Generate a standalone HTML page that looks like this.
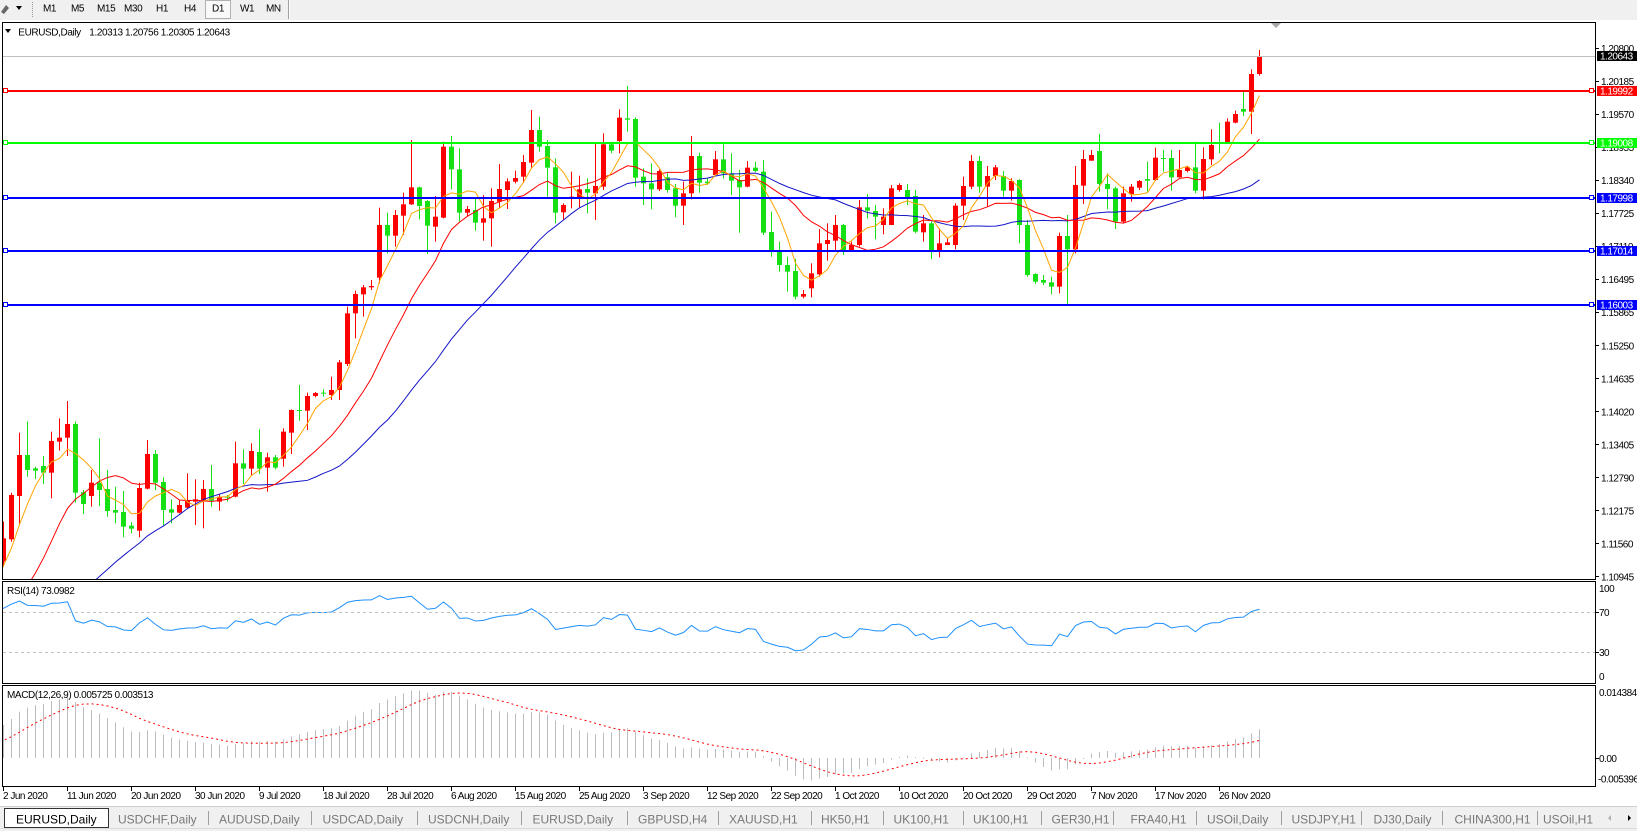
<!DOCTYPE html>
<html><head><meta charset="utf-8">
<style>
html,body{margin:0;padding:0;background:#fff;overflow:hidden;}
svg{display:block;}
text{font-family:"Liberation Sans",Arial,sans-serif;}
.ax{font-size:10px;letter-spacing:-0.5px;fill:#000;}
.tb{font-size:10px;letter-spacing:-0.4px;fill:#000;}
.wt{font-size:10px;letter-spacing:-0.5px;fill:#fff;}
.tab{font-size:12px;fill:#787878;}
</style></head><body>
<svg id="c" xmlns="http://www.w3.org/2000/svg" width="1637" height="831" viewBox="0 0 1637 831">
<defs>
<clipPath id="cm"><rect x="3" y="23" width="1592" height="556"/></clipPath>
<clipPath id="cr"><rect x="3" y="582" width="1592" height="101"/></clipPath>
<clipPath id="cd"><rect x="3" y="686" width="1592" height="100"/></clipPath>
</defs>
<rect x="0" y="0" width="1637" height="831" fill="#fff"/>
<!-- toolbar -->
<rect x="0" y="0" width="1637" height="20" fill="#f0f0f0"/>
<path d="M1 12 L6 5 L9 8 L4 14 Z" fill="#666"/>
<polygon points="16,6 22,6 19,10" fill="#000"/>
<line x1="32.5" y1="2" x2="32.5" y2="17" stroke="#999" stroke-dasharray="1,1"/>
<rect x="205.5" y="0.5" width="25" height="18" fill="#f9f9f9" stroke="#b0b0b0"/>
<text class="tb" x="43" y="11.5">M1</text>
<text class="tb" x="71" y="11.5">M5</text>
<text class="tb" x="97" y="11.5">M15</text>
<text class="tb" x="124" y="11.5">M30</text>
<text class="tb" x="156" y="11.5">H1</text>
<text class="tb" x="184" y="11.5">H4</text>
<text class="tb" x="212" y="11.5">D1</text>
<text class="tb" x="240" y="11.5">W1</text>
<text class="tb" x="266" y="11.5">MN</text>
<line x1="288.5" y1="0" x2="288.5" y2="19" stroke="#a0a0a0"/>
<line x1="289.5" y1="0" x2="289.5" y2="19" stroke="#fff"/>

<!-- frames -->
<rect x="2.5" y="22.5" width="1593" height="557" fill="none" stroke="#000"/>
<rect x="2.5" y="581.5" width="1593" height="102" fill="none" stroke="#000"/>
<rect x="2.5" y="685.5" width="1593" height="101" fill="none" stroke="#000"/>

<!-- title -->
<polygon points="5,29 11,29 8,33" fill="#000"/>
<text class="tb" x="18.3" y="35.5">EURUSD,Daily</text>
<text class="tb" x="89.3" y="35.5">1.20313 1.20756 1.20305 1.20643</text>
<polygon points="1271,23 1281,23 1276,28" fill="#a8a8a8"/>

<g id="dyn"></g>

<!-- current price line -->
<rect x="3" y="56" width="1592" height="1" fill="#c0c0c0"/>
<!-- horizontal lines -->
<rect x="3" y="90" width="1592" height="2" fill="#ff0000"/>
<rect x="3" y="142" width="1592" height="2" fill="#00ff00"/>
<rect x="3" y="197" width="1592" height="2" fill="#0000ff"/>
<rect x="3" y="250" width="1592" height="2" fill="#0000ff"/>
<rect x="3" y="304" width="1592" height="2" fill="#0000ff"/>
<g fill="#fff" stroke-width="1">
<rect x="3.5" y="88.5" width="4" height="4" stroke="#ff0000"/>
<rect x="1589.5" y="88.5" width="4" height="4" stroke="#ff0000"/>
<rect x="3.5" y="140.5" width="4" height="4" stroke="#00ff00"/>
<rect x="1589.5" y="140.5" width="4" height="4" stroke="#00ff00"/>
<rect x="3.5" y="195.5" width="4" height="4" stroke="#0000ff"/>
<rect x="1589.5" y="195.5" width="4" height="4" stroke="#0000ff"/>
<rect x="3.5" y="248.5" width="4" height="4" stroke="#0000ff"/>
<rect x="1589.5" y="248.5" width="4" height="4" stroke="#0000ff"/>
<rect x="3.5" y="302.5" width="4" height="4" stroke="#0000ff"/>
<rect x="1589.5" y="302.5" width="4" height="4" stroke="#0000ff"/>
</g>

<!-- price axis -->
<g stroke="#000">
<line x1="1596" y1="48.5" x2="1599" y2="48.5"/>
<line x1="1596" y1="81.5" x2="1599" y2="81.5"/>
<line x1="1596" y1="114.5" x2="1599" y2="114.5"/>
<line x1="1596" y1="147.5" x2="1599" y2="147.5"/>
<line x1="1596" y1="180.5" x2="1599" y2="180.5"/>
<line x1="1596" y1="213.5" x2="1599" y2="213.5"/>
<line x1="1596" y1="246.5" x2="1599" y2="246.5"/>
<line x1="1596" y1="279.5" x2="1599" y2="279.5"/>
<line x1="1596" y1="312.5" x2="1599" y2="312.5"/>
<line x1="1596" y1="345.5" x2="1599" y2="345.5"/>
<line x1="1596" y1="378.5" x2="1599" y2="378.5"/>
<line x1="1596" y1="411.5" x2="1599" y2="411.5"/>
<line x1="1596" y1="444.5" x2="1599" y2="444.5"/>
<line x1="1596" y1="477.5" x2="1599" y2="477.5"/>
<line x1="1596" y1="510.5" x2="1599" y2="510.5"/>
<line x1="1596" y1="543.5" x2="1599" y2="543.5"/>
<line x1="1596" y1="576.5" x2="1599" y2="576.5"/>
<line x1="1596" y1="612.5" x2="1599" y2="612.5"/>
<line x1="1596" y1="652.5" x2="1599" y2="652.5"/>
<line x1="1596" y1="758.5" x2="1599" y2="758.5"/>
</g>
<text class="ax" x="1601" y="51.8">1.20800</text>
<text class="ax" x="1601" y="84.9">1.20185</text>
<text class="ax" x="1601" y="117.9">1.19570</text>
<text class="ax" x="1601" y="151.0">1.18955</text>
<text class="ax" x="1601" y="184.0">1.18340</text>
<text class="ax" x="1601" y="217.1">1.17725</text>
<text class="ax" x="1601" y="250.1">1.17110</text>
<text class="ax" x="1601" y="283.2">1.16495</text>
<text class="ax" x="1601" y="316.2">1.15865</text>
<text class="ax" x="1601" y="349.3">1.15250</text>
<text class="ax" x="1601" y="382.3">1.14635</text>
<text class="ax" x="1601" y="415.4">1.14020</text>
<text class="ax" x="1601" y="448.4">1.13405</text>
<text class="ax" x="1601" y="481.5">1.12790</text>
<text class="ax" x="1601" y="514.5">1.12175</text>
<text class="ax" x="1601" y="547.6">1.11560</text>
<text class="ax" x="1601" y="580.6">1.10945</text>

<rect x="1597" y="51" width="40" height="10" fill="#000"/>
<text class="wt" x="1600" y="59.7">1.20643</text>
<rect x="1597" y="86" width="40" height="10" fill="#ff0000"/>
<text class="wt" x="1600" y="94.5">1.19992</text>
<rect x="1597" y="138" width="40" height="10" fill="#00ff00"/>
<text class="wt" x="1600" y="146.5">1.19008</text>
<rect x="1597" y="193" width="40" height="10" fill="#0000ff"/>
<text class="wt" x="1600" y="201.5">1.17998</text>
<rect x="1597" y="246" width="40" height="10" fill="#0000ff"/>
<text class="wt" x="1600" y="254.5">1.17014</text>
<rect x="1597" y="300" width="40" height="10" fill="#0000ff"/>
<text class="wt" x="1600" y="308.5">1.16003</text>

<!-- RSI -->
<line x1="3" y1="612.5" x2="1595" y2="612.5" stroke="#c0c0c0" stroke-dasharray="3,3"/>
<line x1="3" y1="652.5" x2="1595" y2="652.5" stroke="#c0c0c0" stroke-dasharray="3,3"/>
<text class="tb" x="7" y="594.2">RSI(14) 73.0982</text>
<text class="ax" x="1599" y="591.8">100</text>
<text class="ax" x="1599" y="615.8">70</text>
<text class="ax" x="1599" y="655.8">30</text>
<text class="ax" x="1599" y="680.2">0</text>

<!-- MACD -->
<text class="tb" x="7" y="698.2">MACD(12,26,9) 0.005725 0.003513</text>
<text class="ax" x="1599" y="696.2">0.014384</text>
<text class="ax" x="1599" y="762.2">0.00</text>
<text class="ax" x="1598" y="782.5">-0.005396</text>

<!-- x axis -->
<g stroke="#000">
<line x1="3.5" y1="786" x2="3.5" y2="791"/>
<line x1="67.5" y1="786" x2="67.5" y2="791"/>
<line x1="131.5" y1="786" x2="131.5" y2="791"/>
<line x1="195.5" y1="786" x2="195.5" y2="791"/>
<line x1="259.5" y1="786" x2="259.5" y2="791"/>
<line x1="323.5" y1="786" x2="323.5" y2="791"/>
<line x1="387.5" y1="786" x2="387.5" y2="791"/>
<line x1="451.5" y1="786" x2="451.5" y2="791"/>
<line x1="515.5" y1="786" x2="515.5" y2="791"/>
<line x1="579.5" y1="786" x2="579.5" y2="791"/>
<line x1="643.5" y1="786" x2="643.5" y2="791"/>
<line x1="707.5" y1="786" x2="707.5" y2="791"/>
<line x1="771.5" y1="786" x2="771.5" y2="791"/>
<line x1="835.5" y1="786" x2="835.5" y2="791"/>
<line x1="899.5" y1="786" x2="899.5" y2="791"/>
<line x1="963.5" y1="786" x2="963.5" y2="791"/>
<line x1="1027.5" y1="786" x2="1027.5" y2="791"/>
<line x1="1091.5" y1="786" x2="1091.5" y2="791"/>
<line x1="1155.5" y1="786" x2="1155.5" y2="791"/>
<line x1="1219.5" y1="786" x2="1219.5" y2="791"/>
</g>
<text class="ax" x="3" y="799">2 Jun 2020</text>
<text class="ax" x="67" y="799">11 Jun 2020</text>
<text class="ax" x="131" y="799">20 Jun 2020</text>
<text class="ax" x="195" y="799">30 Jun 2020</text>
<text class="ax" x="259" y="799">9 Jul 2020</text>
<text class="ax" x="323" y="799">18 Jul 2020</text>
<text class="ax" x="387" y="799">28 Jul 2020</text>
<text class="ax" x="451" y="799">6 Aug 2020</text>
<text class="ax" x="515" y="799">15 Aug 2020</text>
<text class="ax" x="579" y="799">25 Aug 2020</text>
<text class="ax" x="643" y="799">3 Sep 2020</text>
<text class="ax" x="707" y="799">12 Sep 2020</text>
<text class="ax" x="771" y="799">22 Sep 2020</text>
<text class="ax" x="835" y="799">1 Oct 2020</text>
<text class="ax" x="899" y="799">10 Oct 2020</text>
<text class="ax" x="963" y="799">20 Oct 2020</text>
<text class="ax" x="1027" y="799">29 Oct 2020</text>
<text class="ax" x="1091" y="799">7 Nov 2020</text>
<text class="ax" x="1155" y="799">17 Nov 2020</text>
<text class="ax" x="1219" y="799">26 Nov 2020</text>

<!-- tabs -->
<rect x="0" y="806" width="1637" height="25" fill="#f0f0f0"/>
<line x1="0" y1="806.5" x2="1637" y2="806.5" stroke="#cfcfcf"/>
<line x1="0" y1="828.5" x2="1637" y2="828.5" stroke="#dadada"/>
<rect x="4.5" y="808.5" width="104" height="19" fill="#fff" stroke="#333"/>
<text x="16" y="823.5" style="font-size:12px;fill:#000;">EURUSD,Daily</text>
<g stroke="#a0a0a0">
<line x1="208.5" y1="811" x2="208.5" y2="825"/>
<line x1="311.5" y1="811" x2="311.5" y2="825"/>
<line x1="417.5" y1="811" x2="417.5" y2="825"/>
<line x1="521.5" y1="811" x2="521.5" y2="825"/>
<line x1="627.5" y1="811" x2="627.5" y2="825"/>
<line x1="718.5" y1="811" x2="718.5" y2="825"/>
<line x1="811.5" y1="811" x2="811.5" y2="825"/>
<line x1="883.5" y1="811" x2="883.5" y2="825"/>
<line x1="963.5" y1="811" x2="963.5" y2="825"/>
<line x1="1041.5" y1="811" x2="1041.5" y2="825"/>
<line x1="1113.5" y1="811" x2="1113.5" y2="825"/>
<line x1="1196.5" y1="811" x2="1196.5" y2="825"/>
<line x1="1281.5" y1="811" x2="1281.5" y2="825"/>
<line x1="1361.5" y1="811" x2="1361.5" y2="825"/>
<line x1="1442.5" y1="811" x2="1442.5" y2="825"/>
<line x1="1537.5" y1="811" x2="1537.5" y2="825"/>
</g>
<text class="tab" x="118" y="823.5">USDCHF,Daily</text>
<text class="tab" x="219" y="823.5">AUDUSD,Daily</text>
<text class="tab" x="322.5" y="823.5">USDCAD,Daily</text>
<text class="tab" x="428" y="823.5">USDCNH,Daily</text>
<text class="tab" x="532.5" y="823.5">EURUSD,Daily</text>
<text class="tab" x="638" y="823.5">GBPUSD,H4</text>
<text class="tab" x="729" y="823.5">XAUUSD,H1</text>
<text class="tab" x="821" y="823.5">HK50,H1</text>
<text class="tab" x="893.5" y="823.5">UK100,H1</text>
<text class="tab" x="973" y="823.5">UK100,H1</text>
<text class="tab" x="1051.5" y="823.5">GER30,H1</text>
<text class="tab" x="1130.5" y="823.5">FRA40,H1</text>
<text class="tab" x="1207" y="823.5">USOil,Daily</text>
<text class="tab" x="1291.5" y="823.5">USDJPY,H1</text>
<text class="tab" x="1373.5" y="823.5">DJ30,Daily</text>
<text class="tab" x="1454.5" y="823.5">CHINA300,H1</text>
<text class="tab" x="1543" y="823.5">USOil,H1</text>
<polygon points="1611,815 1611,821 1608,818" fill="#b0b0b0"/>
<polygon points="1628,815 1628,821 1631,818" fill="#000"/>
</svg>
<script>
(function(){
var NS='http://www.w3.org/2000/svg';
function el(tag,a,p){var e=document.createElementNS(NS,tag);for(var k in a)e.setAttribute(k,a[k]);p.appendChild(e);return e;}
var Y0=575.5,P0=1.10945,S=5355;
function y2p(y){return P0+(Y0-y)/S;}
function p2y(p){return Y0-(p-P0)*S;}
var segs=[
[360,[
['r',535,605,485,620],['r',405,538,398,545],['r',285,408,218,495],['g',285,330,185,350],['g',325,332,320,357],
['g',318,338,288,372],['r',243,338,215,415],['r',233,245,175,272],['r',192,233,123,288],['g',192,398,185,428],
['g',397,432,390,462],['r',368,408,330,440],['g',368,390,235,438],['g',387,453,330,470],['g',450,458,380,490],
['g',456,500,393,532],['g',497,506,486,520],['r',384,512,368,532],['r',282,386,240,388],['g',282,368,270,390],
['g',366,450,352,497],['g',448,458,418,490],['r',435,458,420,460],['r',420,443,340,445],['r',418,425,358,495],
['r',387,425,360,505],['g',387,422,315,440],['r',410,425,402,452],['g',410,413,405,425],['r',310,410,245,412],
['g',310,326,268,372],['r',273,326,250,345],['g',276,326,208,342],['r',292,323,278,395],['g',292,323,285,328],
['r',215,296,205,320],['r',150,218,148,282],['g',150,153,75,182],['r',108,152,98,210],['r',99,108,96,112],
['g',98,101,88,110]]],
[80,[
['r',930,945,890,960],['r',847,930,840,960],['r',700,852,680,858],['r',642,700,632,775],['r',622,643,615,710],
['r',618,622,600,630],['r',435,593,383,610],['g',435,467,398,520],['r',405,467,390,500],['r',373,407,338,465],
['r',322,373,180,375],['g',322,378,320,418],['g',363,437,360,522],['r',410,440,348,485],['r',200,413,185,415],
['g',200,268,168,328],['g',268,398,205,425],['r',387,398,378,410],['g',390,428,355,452],['r',415,428,345,482],
['r',363,415,325,500],['r',327,365,252,385],['r',304,330,295,387],['r',294,305,272,310],['r',246,290,225,308],
['r',150,248,90,265],['g',150,200,110,215],['g',198,263,180,350],['g',262,398,235,430],['r',375,397,370,420],
['r',350,354,275,385],['r',328,352,287,382],['g',327,338,295,400],['r',318,340,192,420],['r',193,320,160,330],
['g',193,212,185,220],['r',113,183,88,220],['g',115,119,18,155],['g',117,293,112,320],['g',290,310,265,375]]],
[110,[
['g',220,238,160,298],['r',183,238,178,243],['g',202,240,190,248],['g',235,287,222,322],['r',250,287,215,345],
['r',138,250,78,268],['g',138,218,128,248],['g',215,220,205,225],['r',148,195,123,198],['g',148,190,103,205],
['g',190,212,130,255],['g',210,232,180,368],['r',173,230,153,232],['g',173,183,155,186],['g',185,368,150,375],
['g',366,420,305,440],['g',425,465,395,485],['g',465,485,440,545],['g',483,560,447,568],['r',552,560,540,565],
['r',490,535,460,562],['r',400,493,357,500],['r',390,402,340,452],['r',345,392,315,420],['g',345,420,342,435],
['r',405,420,395,425],['r',292,405,270,410],['g',292,302,252,325],['g',303,320,285,388],['r',320,345,295,373],
['r',235,345,225,345],['r',225,240,220,245],['g',240,262,222,285],['g',258,365,240,370],['r',340,367,315,395],
['g',340,425,335,447],['r',400,425,355,442],['r',397,405,385,405],['r',287,405,280,418],['r',228,287,200,330]]],
[40,[
['r',363,440,345,447],['g',363,440,348,458],['r',408,440,378,500],['r',382,408,375,420],['g',408,452,393,470],
['r',423,452,415,482],['g',420,555,418,610],['g',555,705,540,710],['g',702,725,700,732],['g',720,728,705,735],
['g',727,740,710,763],['r',588,740,578,760],['g',588,628,525,795],['r',435,628,378,640],['r',357,437,330,492],
['r',345,362,330,362],['g',333,432,282,455],['g',432,447,400,508],['g',445,545,440,567],['r',460,545,440,550],
['r',440,462,432,485],['r',423,443,420,450],['g',417,422,365,455],['r',353,420,323,423],['g',354,356,330,395],
['g',354,412,330,452],['r',390,412,330,413],['r',382,393,377,397],['g',382,452,305,460],['r',357,452,322,478],
['r',315,358,268,375],['g',308,311,248,340],['r',245,308,235,310],['r',222,248,212,250],['g',207,215,155,228],
['r',102,215,88,282],['r',48,102,30,107]]]
];
var bars=[];
segs.forEach(function(s){var o=s[0];s[1].forEach(function(b){bars.push({up:b[0]==='r',t:o+b[1]/3,bo:o+b[2]/3,h:o+b[3]/3,l:o+b[4]/3});});});
var pre=[1.0960,1.0900,1.0850,1.0800,1.0780,1.0790,1.0850,1.0930,1.0970,1.0990,1.0920,1.0880,1.0900,1.0880,1.0890,1.0940,1.0960,1.0920,1.0870,1.0910,
1.0935,1.0870,1.0870,1.0860,1.0860,1.0820,1.0780,1.0820,1.0820,1.0830,1.0825,1.0875,1.0955,1.0980,1.0980,1.0905,1.0840,1.0795,1.0835,1.0840,
1.0840,1.0810,1.0850,1.0818,1.0805,1.0820,1.0820,1.0916,1.0925,1.0976,1.0950,1.0900,1.0900,1.0898,1.0980,1.1005,1.1078,1.1100,1.1100,1.1121];
var P=pre.length;
var C=pre.slice();
bars.forEach(function(b){C.push(y2p(b.up?b.t:b.bo));});
var N=bars.length;
function X(k){return 3.5+8*k;}
var g=document.getElementById('dyn');
var gm=el('g',{'clip-path':'url(#cm)'},g);
for(var k=0;k<N;k++){
 var b=bars[k],col=b.up?'#ff0000':'#14e014';
 el('rect',{x:3+8*k,y:b.h.toFixed(2),width:1,height:Math.max(1,b.l-b.h).toFixed(2),fill:col},gm);
 el('rect',{x:1+8*k,y:b.t.toFixed(2),width:5,height:Math.max(1,b.bo-b.t).toFixed(2),fill:col},gm);
}
function sma(n,i){var s=0;for(var j=i-n+1;j<=i;j++)s+=C[j];return s/n;}
function maLine(n,col){var pts=[];for(var k=-1;k<N;k++){pts.push(X(k).toFixed(1)+','+p2y(sma(n,P+k)).toFixed(2));}
 el('polyline',{points:pts.join(' '),fill:'none',stroke:col,'stroke-width':1},gm);}
maLine(30,'#1414c8');
maLine(14,'#ff0000');
maLine(5,'#ffa500');
// RSI
var per=14,rsi=[],pos=0,neg=0;
for(var i=1;i<C.length;i++){
 var d=C[i]-C[i-1];
 if(i<=per){ if(d>0)pos+=d;else neg-=d; if(i===per){pos/=per;neg/=per;} }
 else { pos=(pos*(per-1)+(d>0?d:0))/per; neg=(neg*(per-1)+(d<0?-d:0))/per; }
 if(i>=per) rsi[i]=neg===0?100:100-100/(1+pos/neg);
}
var gr=el('g',{'clip-path':'url(#cr)'},g);
var pts=[];for(var k=-1;k<N;k++){pts.push(X(k).toFixed(1)+','+(682.3-rsi[P+k]).toFixed(2));}
el('polyline',{points:pts.join(' '),fill:'none',stroke:'#1e90ff','stroke-width':1},gr);
// MACD
var e12=C[0],e26=C[0],m=[],a12=2/13,a26=2/27;
for(var i=0;i<C.length;i++){e12=e12+a12*(C[i]-e12);e26=e26+a26*(C[i]-e26);m[i]=e12-e26;}
var sig=[];for(var i=8;i<C.length;i++){var s=0;for(var j=i-8;j<=i;j++)s+=m[j];sig[i]=s/9;}
var gd=el('g',{'clip-path':'url(#cd)'},g);
var Z=758,K=5005;
for(var k=0;k<N;k++){var v=m[P+k],yv=Z-v*K;
 el('rect',{x:3+8*k,y:Math.min(Z,yv).toFixed(2),width:1,height:Math.max(1,Math.abs(yv-Z)).toFixed(2),fill:'#bcbcbc'},gd);}
pts=[];for(var k=-1;k<N;k++){pts.push(X(k).toFixed(1)+','+(Z-sig[P+k]*K).toFixed(2));}
el('polyline',{points:pts.join(' '),fill:'none',stroke:'#ff0000','stroke-width':1,'stroke-dasharray':'2,3'},gd);
})();
</script>
</body></html>
